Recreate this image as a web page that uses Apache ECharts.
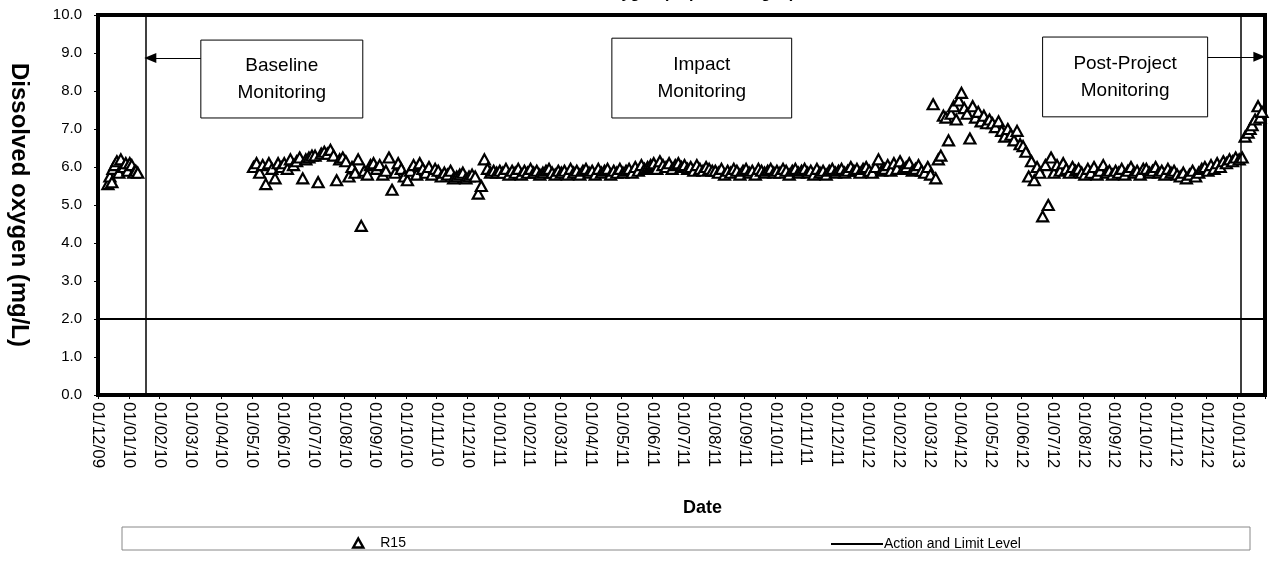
<!DOCTYPE html>
<html>
<head>
<meta charset="utf-8">
<script src="https://cdn.jsdelivr.net/npm/echarts@6/dist/echarts.min.js"></script>
<style>
  html, body { margin: 0; padding: 0; background: #fff; }
  #chart { width: 1271px; height: 561px; }
</style>
</head>
<body>
<div id="chart"></div>
<script>
// x tick labels, one per month (dd/mm/yy)
const tickLabels = [
  '01/12/09', '01/01/10', '01/02/10', '01/03/10', '01/04/10', '01/05/10', '01/06/10',
  '01/07/10', '01/08/10', '01/09/10', '01/10/10', '01/11/10', '01/12/10', '01/01/11',
  '01/02/11', '01/03/11', '01/04/11', '01/05/11', '01/06/11', '01/07/11', '01/08/11',
  '01/09/11', '01/10/11', '01/11/11', '01/12/11', '01/01/12', '01/02/12', '01/03/12',
  '01/04/12', '01/05/12', '01/06/12', '01/07/12', '01/08/12', '01/09/12', '01/10/12',
  '01/11/12', '01/12/12', '01/01/13'
]

// baseline survey, Dec 2009 - Jan 2010
const baselineDates = [
  '2009-12-11', '2009-12-13', '2009-12-15', '2009-12-16', '2009-12-18', '2009-12-20',
  '2009-12-22', '2009-12-24', '2009-12-27', '2009-12-29', '2009-12-31', '2010-01-02',
  '2010-01-04', '2010-01-06', '2010-01-08', '2010-01-10'
]
const baselineDO = [5.55, 5.75, 5.6, 5.95, 6.05, 6.15, 5.85, 6.2, 6.0, 6.1, 5.9, 6.1, 6.05, 5.85, 5.9, 5.85]

// impact monitoring, samples spread through each month (May 2010 -> Dec 2010)
const r15_2010 = [
  [6.0, 6.1, 5.85, 6.05, 5.55, 6.1, 5.95, 5.7, 6.1, 6.0],
  [6.1, 5.95, 6.2, 6.05, 6.15, 6.25, 5.7, 6.2, 6.25, 6.3],
  [6.3, 5.6, 6.35, 6.4, 6.35, 6.45, 6.3, 5.65, 6.2, 6.25],
  [6.15, 5.75, 6.0, 5.85, 6.2, 4.45, 5.9, 5.8, 6.05, 6.1],
  [5.95, 6.05, 5.8, 5.9, 6.25, 5.4, 5.85, 6.1, 5.95, 5.75],
  [5.65, 5.9, 6.05, 5.8, 6.1, 5.95, 5.85, 6.0, 5.8, 5.95],
  [5.9, 5.75, 5.85, 5.8, 5.9, 5.7, 5.75, 5.8, 5.85, 5.7],
  [5.75, 5.8, 5.75, 5.3, 5.5, 6.2, 5.95, 5.85, 5.9, 5.85]
]
// Jan 2011 -> Dec 2011
const r15_2011 = [
  [5.9, 5.85, 5.95, 5.8, 5.9, 5.85, 5.95, 5.8, 5.9, 5.85],
  [5.95, 5.85, 5.9, 5.8, 5.85, 5.9, 5.95, 5.85, 5.8, 5.9],
  [5.85, 5.9, 5.8, 5.95, 5.85, 5.9, 5.8, 5.9, 5.95, 5.85],
  [5.9, 5.8, 5.95, 5.85, 5.9, 5.95, 5.8, 5.9, 5.85, 5.95],
  [5.85, 5.9, 5.95, 5.85, 6.0, 5.9, 6.05, 5.95, 6.0, 6.05],
  [6.1, 5.95, 6.15, 6.05, 6.0, 6.1, 5.95, 6.05, 6.1, 6.0],
  [6.05, 5.95, 6.0, 5.9, 6.05, 5.95, 5.9, 6.0, 5.95, 5.9],
  [5.9, 5.85, 5.95, 5.8, 5.9, 5.85, 5.95, 5.9, 5.8, 5.9],
  [5.95, 5.85, 5.9, 5.8, 5.95, 5.9, 5.85, 5.9, 5.95, 5.85],
  [5.9, 5.85, 5.95, 5.9, 5.8, 5.9, 5.95, 5.85, 5.9, 5.95],
  [5.85, 5.9, 5.8, 5.95, 5.85, 5.9, 5.8, 5.9, 5.95, 5.85],
  [5.9, 5.95, 5.85, 5.9, 6.0, 5.9, 5.95, 5.85, 5.95, 6.0]
]
// Jan 2012 -> Dec 2012
const r15_2012 = [
  [5.9, 5.85, 6.0, 6.2, 5.9, 5.95, 6.05, 5.9, 6.1, 5.95],
  [6.15, 5.95, 6.0, 6.1, 5.9, 5.95, 6.05, 5.9, 5.85, 6.0],
  [5.8, 7.65, 5.7, 6.2, 6.3, 7.35, 7.3, 6.7, 7.4, 7.6, 7.25, 7.75],
  [7.95, 7.55, 7.4, 6.75, 7.6, 7.3, 7.45, 7.2, 7.35, 7.15, 7.25],
  [7.15, 7.05, 7.2, 6.95, 6.8, 7.0, 6.85, 6.7, 6.95, 6.6],
  [6.55, 6.4, 5.75, 6.15, 5.65, 6.0, 5.85, 4.7, 6.05, 5.0, 6.25],
  [5.85, 6.05, 5.9, 6.1, 5.95, 5.85, 6.0, 5.9, 5.95, 5.85],
  [5.8, 5.95, 5.85, 6.0, 5.8, 5.9, 6.05, 5.85, 5.9, 5.8],
  [5.9, 5.85, 5.95, 5.8, 5.9, 6.0, 5.85, 5.9, 5.8, 5.95],
  [5.95, 5.85, 5.9, 6.0, 5.85, 5.9, 5.8, 5.95, 5.85, 5.9],
  [5.8, 5.75, 5.85, 5.7, 5.8, 5.9, 5.75, 5.85, 5.95, 6.0],
  [5.9, 6.05, 5.95, 6.1, 6.0, 6.15, 6.1, 6.2, 6.15, 6.25]
]
// Jan 2013 (day of month / value)
const jan2013Days = [3, 6, 9, 12, 14, 16, 19, 22, 24, 26]
const jan2013DO = [6.2, 6.25, 6.8, 6.9, 7.0, 7.1, 7.25, 7.6, 7.3, 7.45]

const actionLevel = 2.0
const baselineEnd = '2010-01-18'
const postStart = '2013-01-05'
const axisEnd = '2013-01-29'

// months since 01/12/09, fractional
function monthPos(y, m, d) {
  const dim = new Date(y, m, 0).getDate()
  return (y - 2009) * 12 + (m - 12) + (d - 1) / dim
}
function datePos(s) {
  const p = s.split('-').map(Number)
  return monthPos(p[0], p[1], p[2])
}

const points = []
baselineDates.forEach((d, i) => points.push([datePos(d), baselineDO[i]]))
function addYear(year, firstMonth, rows) {
  rows.forEach((vals, k) => {
    const m = firstMonth + k
    const dim = new Date(year, m, 0).getDate()
    vals.forEach((v, i) => {
      points.push([monthPos(year, m, 1 + (i + 0.5) * dim / vals.length), v])
    })
  })
}
addYear(2010, 5, r15_2010)
addYear(2011, 1, r15_2011)
addYear(2012, 1, r15_2012)
jan2013Days.forEach((d, i) => points.push([monthPos(2013, 1, d), jan2013DO[i]]))

const xMax = datePos(axisEnd)
const FONT = "'Liberation Sans', Arial, sans-serif"

const chart = echarts.init(document.getElementById('chart'))

chart.setOption({
  animation: false,
  backgroundColor: '#fff',
  textStyle: { fontFamily: FONT, color: '#000' },
  title: {
    text: 'Dissolved Oxygen (Depth-averaged)',
    left: 515,
    top: -19,
    textStyle: { fontFamily: FONT, fontSize: 16, fontWeight: 'bold', color: '#000' }
  },
  grid: {
    left: 98, top: 15, right: 6, bottom: 166,
    outerBoundsMode: 'none',
    containLabel: false,
    show: true, borderColor: '#000', borderWidth: 4, backgroundColor: 'transparent'
  },
  legend: [
    {
      data: [{ name: 'R15', icon: 'triangle' }],
      left: 347, top: 531,
      itemWidth: 10, itemHeight: 9,
      itemStyle: { borderWidth: 2.5 },
      textStyle: { fontFamily: FONT, fontSize: 14, color: '#000', padding: [0, 0, 0, 12] }
    },
    {
      data: [{ name: 'Action and Limit Level', icon: 'rect' }],
      left: 826, top: 532,
      itemWidth: 52, itemHeight: 2,
      textStyle: { fontFamily: FONT, fontSize: 14, color: '#000', padding: [0, 0, 0, -4] }
    }
  ],
  xAxis: {
    type: 'value',
    min: 0,
    max: xMax,
    interval: 1,
    axisLine: { show: false },
    axisTick: { show: true, length: 4, lineStyle: { color: '#000', width: 1 } },
    splitLine: { show: false },
    axisLabel: {
      rotate: -90,
      margin: 7,
      fontFamily: FONT,
      fontSize: 17,
      color: '#000',
      formatter: v => (Number.isInteger(v) ? tickLabels[v] || '' : '')
    }
  },
  yAxis: {
    type: 'value',
    min: 0,
    max: 10,
    interval: 1,
    name: 'Dissolved oxygen (mg/L)',
    nameLocation: 'middle',
    nameRotate: -90,
    nameGap: 67,
    nameTextStyle: { fontFamily: FONT, fontSize: 24, fontWeight: 'bold', color: '#000' },
    axisLine: { show: false },
    axisTick: { show: true, length: 4, lineStyle: { color: '#000' } },
    splitLine: { show: false },
    axisLabel: {
      margin: 16,
      fontFamily: FONT,
      fontSize: 15,
      color: '#000',
      formatter: v => v.toFixed(1)
    }
  },
  graphic: [
    {
      type: 'text',
      left: 683, top: 499,
      style: { text: 'Date', font: "bold 18px 'Liberation Sans', Arial, sans-serif", fill: '#000' }
    },
    {
      type: 'rect',
      shape: { x: 122, y: 527, width: 1128, height: 23 },
      style: { fill: 'none', stroke: '#888', lineWidth: 1 },
      z: -1
    }
  ],
  series: [
    {
      name: 'R15',
      type: 'scatter',
      data: points,
      symbol: 'triangle',
      symbolSize: [11, 10],
      itemStyle: { color: '#fff', borderColor: '#000', borderWidth: 2.2, opacity: 1 },
      z: 3,
      markLine: {
        silent: true,
        symbol: 'none',
        label: { show: false },
        lineStyle: { color: '#000', width: 1.5, type: 'solid' },
        data: [
          { xAxis: datePos(baselineEnd) },
          { xAxis: datePos(postStart) }
        ]
      }
    },
    {
      name: 'Action and Limit Level',
      type: 'line',
      data: [[0, actionLevel], [xMax, actionLevel]],
      symbol: 'none',
      lineStyle: { color: '#000', width: 2 },
      itemStyle: { color: '#000' },
      z: 2,
      markLine: {
        silent: true,
        symbol: ['none', 'triangle'],
        symbolSize: [10, 12],
        label: { show: false },
        lineStyle: { color: '#000', width: 1.2, type: 'solid' },
        data: [
          [{ coord: [3.34, 8.87] }, { coord: [datePos(baselineEnd) + 0.15, 8.87] }],
          [{ coord: [36.04, 8.9] }, { coord: [37.72, 8.9] }]
        ]
      },
      markArea: {
        silent: true,
        itemStyle: { color: '#fff', borderColor: '#000', borderWidth: 1 },
        label: {
          position: 'inside',
          fontFamily: FONT,
          fontSize: 19,
          lineHeight: 27,
          color: '#000',
          align: 'center',
          verticalAlign: 'middle'
        },
        data: [
          [{ name: 'Baseline\nMonitoring', coord: [3.34, 9.34] }, { coord: [8.6, 7.29] }],
          [{ name: 'Impact\nMonitoring', coord: [16.69, 9.39] }, { coord: [22.53, 7.29] }],
          [{ name: 'Post-Project\nMonitoring', coord: [30.68, 9.42] }, { coord: [36.04, 7.32] }]
        ]
      }
    }
  ]
})
</script>
</body>
</html>
